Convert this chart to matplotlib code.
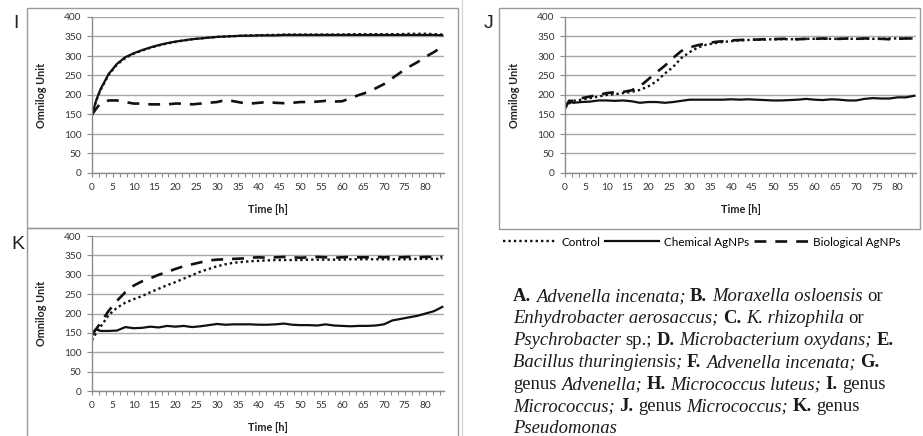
import matplotlib
matplotlib.use("Agg")
import matplotlib.pyplot as plt
from matplotlib.ticker import MultipleLocator
from matplotlib.patches import Rectangle
from matplotlib.lines import Line2D

# ---------------- data ----------------
hours = [0, 1, 2, 4, 6, 8, 10, 12, 14, 16, 18, 20, 22, 24, 26, 28, 30, 32, 34, 36, 38, 40,
         42, 44, 46, 48, 50, 52, 54, 56, 58, 60, 62, 64, 66, 68, 70, 72, 74, 76, 78, 80, 82, 84]

I_control = [148, 185, 212, 252, 278, 295, 306, 314, 321, 327, 332, 336, 340, 343, 345, 347, 349, 350,
             351, 352, 353, 353, 354, 354, 355, 355, 355, 355, 355, 355, 355, 355, 356, 356, 356, 356,
             356, 356, 356, 357, 357, 357, 356, 355]
I_chemical = [150, 186, 214, 254, 280, 297, 307, 315, 322, 328, 333, 337, 340, 343, 345, 347, 349, 350,
              351, 352, 352, 353, 353, 353, 354, 354, 354, 354, 354, 354, 354, 354, 354, 354, 354, 354,
              354, 354, 354, 354, 354, 354, 354, 353]
I_biological = [150, 165, 178, 186, 186, 182, 178, 178, 176, 176, 176, 178, 178, 176, 178, 180, 182, 187,
                184, 180, 178, 180, 182, 180, 179, 180, 182, 182, 183, 185, 183, 184, 192, 200, 207, 217,
                228, 243, 258, 272, 284, 298, 310, 324]

J_control = [168, 178, 185, 188, 192, 196, 200, 202, 205, 208, 213, 222, 235, 255, 272, 295, 310, 322,
             329, 333, 336, 338, 340, 341, 342, 342, 343, 343, 343, 343, 344, 344, 344, 344, 344, 344,
             344, 344, 344, 344, 345, 345, 345, 345]
J_chemical = [165, 185, 180, 182, 183, 186, 186, 185, 186, 184, 180, 182, 182, 180, 182, 185, 188, 188,
              188, 188, 188, 189, 188, 189, 188, 187, 186, 186, 187, 188, 190, 188, 187, 189, 188, 186,
              186, 190, 192, 191, 191, 194, 194, 198]
J_biological = [168, 185, 185, 192, 196, 200, 205, 207, 208, 212, 222, 240, 258, 275, 295, 313, 322, 328,
                332, 336, 338, 340, 341, 342, 342, 343, 343, 344, 344, 343, 344, 344, 345, 344, 344, 345,
                344, 345, 345, 344, 343, 344, 345, 345]

K_control = [131, 150, 165, 196, 215, 228, 237, 245, 255, 264, 273, 281, 290, 299, 308, 315, 322, 327,
             331, 333, 335, 336, 337, 338, 338, 338, 338, 339, 339, 339, 339, 339, 340, 340, 340, 340,
             340, 340, 340, 340, 341, 341, 341, 341]
K_chemical = [143, 160, 155, 155, 156, 165, 162, 163, 166, 164, 168, 166, 168, 165, 167, 170, 173, 171,
              172, 172, 172, 171, 171, 172, 174, 171, 170, 170, 169, 172, 169, 168, 167, 168, 168, 169,
              172, 182, 186, 190, 194, 200, 206, 217]
K_biological = [148, 160, 175, 207, 233, 255, 272, 283, 291, 300, 307, 315, 322, 327, 332, 337, 339, 340,
                341, 342, 344, 345, 344, 345, 346, 345, 344, 345, 346, 345, 344, 345, 346, 345, 345, 346,
                345, 346, 345, 346, 345, 346, 346, 346]

series_labels = ["Control", "Chemical AgNPs", "Biological AgNPs"]
panel_names = ["I", "J", "K"]
y_ticks = [0, 50, 100, 150, 200, 250, 300, 350, 400]
x_labels = [0, 5, 10, 15, 20, 25, 30, 35, 40, 45, 50, 55, 60, 65, 70, 75, 80]

caption_lines = [
    [("A.", "b"), ("Advenella incenata;", "i"), ("B.", "b"), ("Moraxella osloensis", "i"), ("or", "r")],
    [("Enhydrobacter aerosaccus;", "i"), ("C.", "b"), ("K. rhizophila", "i"), ("or", "r")],
    [("Psychrobacter", "i"), ("sp.;", "r"), ("D.", "b"), ("Microbacterium oxydans;", "i"), ("E.", "b")],
    [("Bacillus thuringiensis;", "i"), ("F.", "b"), ("Advenella incenata;", "i"), ("G.", "b")],
    [("genus", "r"), ("Advenella;", "i"), ("H.", "b"), ("Micrococcus luteus;", "i"), ("I.", "b"), ("genus", "r")],
    [("Micrococcus;", "i"), ("J.", "b"), ("genus", "r"), ("Micrococcus;", "i"), ("K.", "b"), ("genus", "r")],
    [("Pseudomonas", "i")],
]

# ---------------- figure ----------------
W, H = 923, 436
fig = plt.figure(figsize=(W / 100, H / 100), dpi=100)
fig.patch.set_facecolor("white")

TICKFONT = "Lato"
TICKSIZE = 7.3
LABELSIZE = 7.8

def px(x, y):
    return (x / W, 1 - y / H)

# panel frames
for (x0, y0, x1, y1) in [(27, 8, 458, 228), (499, 8, 920, 229), (27, 228, 458, 445)]:
    fig.patches.append(Rectangle(px(x0, y1), (x1 - x0) / W, (y1 - y0) / H,
                                 transform=fig.transFigure, fill=False,
                                 edgecolor="#9a9a9a", linewidth=1.0))
fig.add_artist(Line2D([462 / W, 462 / W], [0, 1], transform=fig.transFigure,
                      color="#d8d8d8", linewidth=1.0))

styles = {
    "Control": dict(linestyle=(0, (1, 1.3)), linewidth=1.7),
    "Chemical AgNPs": dict(linestyle="-", linewidth=1.6),
    "Biological AgNPs": dict(linestyle=(0, (4.5, 3.4)), linewidth=1.9),
}

axes_px = {
    "I": (92, 17, 444, 173),
    "J": (565, 17, 916, 173),
    "K": (92, 236, 444, 391),
}
data = {
    "I": (I_control, I_chemical, I_biological),
    "J": (J_control, J_chemical, J_biological),
    "K": (K_control, K_chemical, K_biological),
}
label_pos = {"I": (16, 23), "J": (489, 23), "K": (18, 244)}

handles = None
for name in panel_names:
    l, t, r, b = axes_px[name]
    ax = fig.add_axes([l / W, 1 - b / H, (r - l) / W, (b - t) / H])
    lines = []
    for lab, vals in zip(series_labels, data[name]):
        ln, = ax.plot(hours, vals, color="#111111", label=lab, **styles[lab])
        lines.append(ln)
    if handles is None:
        handles = lines
    ax.set_xlim(0, 84.4)
    ax.set_ylim(0, 400)
    ax.set_yticks(y_ticks)
    ax.set_xticks(x_labels)
    ax.xaxis.set_minor_locator(MultipleLocator(5 / 3))
    ax.grid(axis="y", color="#a8a8a8", linewidth=1.0)
    ax.set_axisbelow(True)
    for s in ["top", "right"]:
        ax.spines[s].set_visible(False)
    for s in ["left", "bottom"]:
        ax.spines[s].set_color("#8c8c8c")
        ax.spines[s].set_linewidth(1.0)
    ax.tick_params(axis="both", which="both", direction="out", color="#8c8c8c",
                   labelcolor="#333333", labelsize=TICKSIZE, width=0.8)
    ax.tick_params(axis="y", length=3.5, pad=4)
    ax.tick_params(axis="x", which="both", length=3, pad=4)
    for tl in ax.get_xticklabels() + ax.get_yticklabels():
        tl.set_fontfamily(TICKFONT)
    ax.set_xlabel("Time [h]", fontsize=LABELSIZE, fontweight="bold", fontfamily=TICKFONT, color="#222222")
    ax.set_ylabel("Omnilog Unit", fontsize=LABELSIZE, fontweight="bold", fontfamily=TICKFONT, color="#222222")
    ax.yaxis.set_label_coords(-45 / (r - l), 0.5)
    ax.xaxis.set_label_coords(0.5, -31 / (b - t))
    lx, ly = label_pos[name]
    fig.text(lx / W, 1 - ly / H, name, fontsize=14, fontfamily="Liberation Sans",
             ha="center", va="center", color="#222222")

# legend
fig.legend(handles, series_labels, loc="center left", bbox_to_anchor=px(503, 242),
           ncol=3, frameon=False, handlelength=4.6, handletextpad=0.4,
           columnspacing=0.45, borderpad=0, borderaxespad=0,
           prop={"family": TICKFONT, "size": 8.4})

# caption text with mixed styles
SERIF = "Liberation Serif"
FS = 13.4
renderer = fig.canvas.get_renderer()
style_kw = {"b": dict(fontweight="bold"), "i": dict(fontstyle="italic"), "r": dict()}

def text_w(s, st):
    tt = fig.text(0, 0, s, fontsize=FS, fontfamily=SERIF, **style_kw[st])
    w = tt.get_window_extent(renderer).width
    tt.remove()
    return w

space_w = text_w("n n", "r") - text_w("nn", "r")

x_start, y_first, line_gap = 513, 301, 22.0
for i, segs in enumerate(caption_lines):
    x = x_start
    y = y_first + i * line_gap
    for j, (s, st) in enumerate(segs):
        tt = fig.text(x / W, 1 - y / H, s, fontsize=FS, fontfamily=SERIF, color="#1a1a1a",
                      va="baseline", ha="left", **style_kw[st])
        x += tt.get_window_extent(renderer).width + space_w

fig.savefig("out.png", dpi=100, facecolor="white")
